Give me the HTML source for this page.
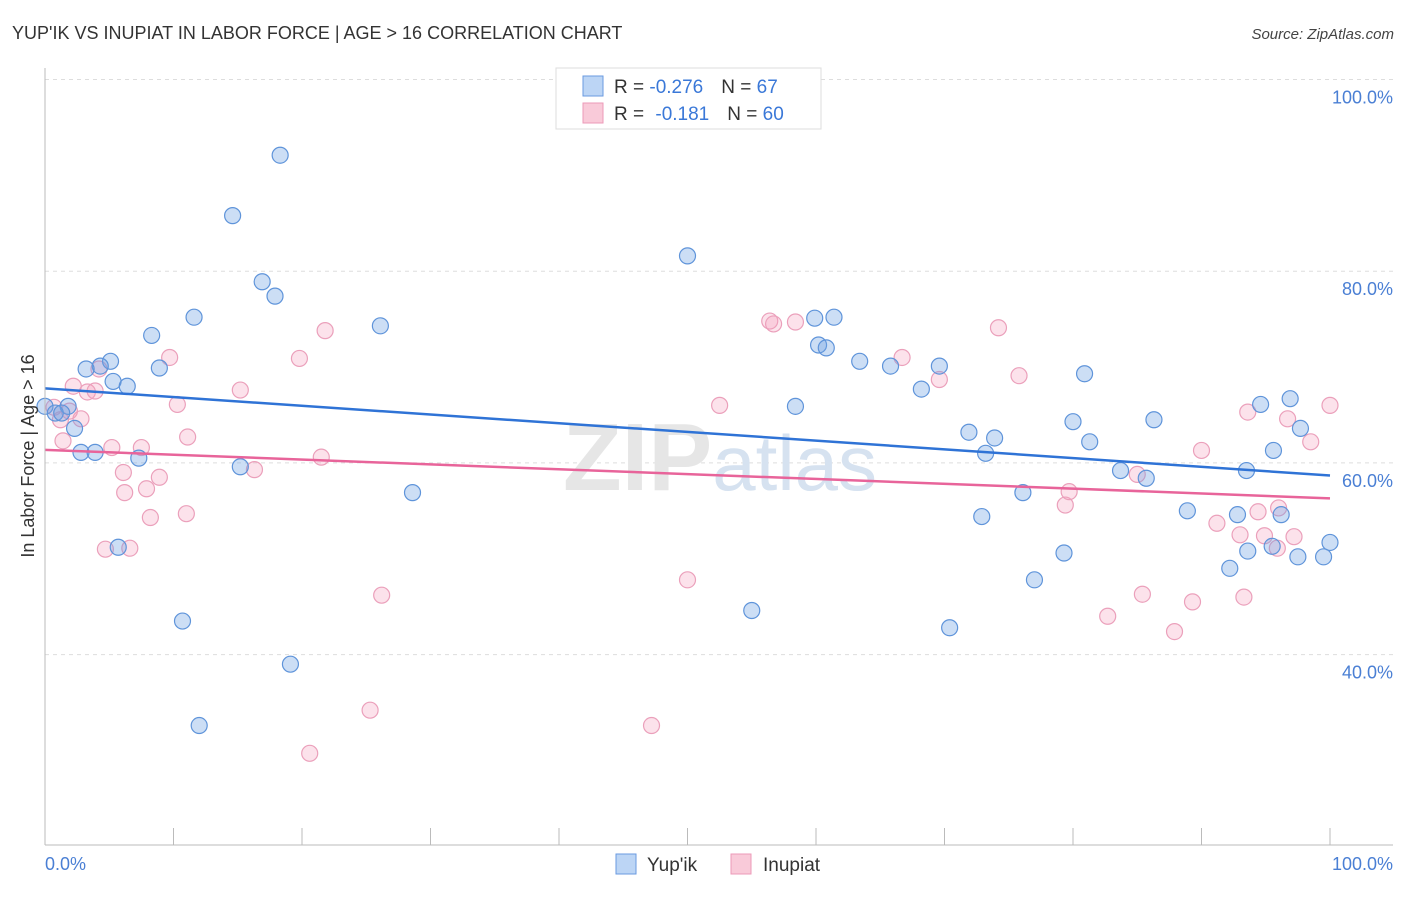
<!DOCTYPE html>
<html><head><meta charset="utf-8"><style>
body{margin:0;background:#fff;font-family:"Liberation Sans",sans-serif;}
svg text{font-family:"Liberation Sans",sans-serif;}
</style></head><body>
<svg id="chart" width="1406" height="892" viewBox="0 0 1406 892" xmlns="http://www.w3.org/2000/svg">
<text x="12" y="39" font-size="18" fill="#333">YUP'IK VS INUPIAT IN LABOR FORCE | AGE &gt; 16 CORRELATION CHART</text>
<text x="1394" y="39" font-size="15" fill="#444" text-anchor="end" font-style="italic">Source: ZipAtlas.com</text>
<g id="grid"></g>
<text x="720" y="490" font-size="96" text-anchor="middle" fill="#e6e6e6" font-family="Liberation Serif,serif" font-weight="bold">ZIP<tspan fill="#d6e2f0" font-family="Liberation Sans,sans-serif" font-weight="normal" font-size="78">atlas</tspan></text>
<g id="points"></g>
<g id="trends"></g>
<line x1="45" y1="68" x2="45" y2="845" stroke="#bbb"/>
<line x1="45" y1="845" x2="1393" y2="845" stroke="#bbb"/>
<g id="xticks"></g>
<text transform="translate(34,456) rotate(-90)" font-size="18" fill="#333" text-anchor="middle">In Labor Force | Age &gt; 16</text>
<text x="45" y="870" font-size="18" fill="#4a7fd4">0.0%</text>
<text x="1393" y="870" font-size="18" fill="#4a7fd4" text-anchor="end">100.0%</text>
<g>
<rect x="556" y="68" width="265" height="61" fill="#fff" stroke="#ddd"/>
<rect x="583" y="76" width="20" height="20" fill="#bcd5f5" stroke="#6a9ae0"/>
<rect x="583" y="103" width="20" height="20" fill="#f9cad9" stroke="#ec9ab8"/>
<text x="614" y="93" font-size="19" fill="#333">R = <tspan fill="#3a78d8">-0.276</tspan><tspan dx="18">N = </tspan><tspan fill="#3a78d8">67</tspan></text>
<text x="614" y="120" font-size="19" fill="#333">R = <tspan dx="6" fill="#3a78d8">-0.181</tspan><tspan dx="18">N = </tspan><tspan fill="#3a78d8">60</tspan></text>
</g>
<g>
<rect x="616" y="854" width="20" height="20" fill="#bcd5f5" stroke="#6a9ae0"/>
<text x="647" y="871" font-size="19" fill="#333">Yup'ik</text>
<rect x="731" y="854" width="20" height="20" fill="#f9cad9" stroke="#ec9ab8"/>
<text x="763" y="871" font-size="19" fill="#333">Inupiat</text>
</g>
</svg>
<script>
const yTicks=[100,80,60,40];
const yTickLabels=["100.0%","80.0%","60.0%","40.0%"];
const xTicks=[0,10,20,30,40,50,60,70,80,90,100];
const yupikX=[41.6,18.3,14.6,50.0,16.9,17.9,11.6,8.3,26.1,59.9,61.4,60.2,60.8,63.4,65.8,69.6,68.2,5.1,4.3,3.2,8.9,5.3,6.4,80.9,58.4,1.8,0,0.8,1.3,2.3,2.8,3.9,7.3,15.2,28.6,71.9,73.9,73.2,80.0,81.3,86.3,83.7,85.7,94.6,96.9,97.7,95.6,93.5,72.9,76.1,88.9,92.8,96.2,79.3,93.6,95.5,97.5,99.5,100,77.0,92.2,55.0,70.4,10.7,5.7,19.1,12.0];
const yupikY=[100,92.1,85.8,81.6,78.9,77.4,75.2,73.3,74.3,75.1,75.2,72.3,72.0,70.6,70.1,70.1,67.7,70.6,70.1,69.8,69.9,68.5,68.0,69.3,65.9,65.9,65.9,65.2,65.2,63.6,61.1,61.1,60.5,59.6,56.9,63.2,62.6,61.0,64.3,62.2,64.5,59.2,58.4,66.1,66.7,63.6,61.3,59.2,54.4,56.9,55.0,54.6,54.6,50.6,50.8,51.3,50.2,50.2,51.7,47.8,49.0,44.6,42.8,43.5,51.2,39.0,32.6];
const inupiatX=[0.7,1.2,1.9,1.4,2.2,3.3,3.9,2.8,4.2,5.2,6.1,6.2,7.5,7.9,8.2,8.9,9.7,10.3,11.0,11.1,4.7,6.6,15.2,16.3,19.8,21.5,21.8,26.2,25.3,20.6,50.0,47.2,52.5,56.4,56.7,58.4,66.7,69.6,74.2,75.8,79.4,79.7,82.7,85.0,85.4,87.9,89.3,90.0,91.2,93.3,93.6,93.0,94.4,94.9,96.0,95.9,96.7,97.2,98.5,100];
const inupiatY=[65.8,64.5,65.4,62.3,68.0,67.4,67.5,64.6,69.8,61.6,59.0,56.9,61.6,57.3,54.3,58.5,71.0,66.1,54.7,62.7,51.0,51.1,67.6,59.3,70.9,60.6,73.8,46.2,34.2,29.7,47.8,32.6,66.0,74.8,74.5,74.7,71.0,68.7,74.1,69.1,55.6,57.0,44.0,58.8,46.3,42.4,45.5,61.3,53.7,46.0,65.3,52.5,54.9,52.4,55.3,51.1,64.6,52.3,62.2,66.0];
const NS="http://www.w3.org/2000/svg";
const sx=v=>45+v*12.85;
const sy=v=>79.5+(100-v)*9.585;
function mk(t,a,p){const e=document.createElementNS(NS,t);for(const k in a)e.setAttribute(k,a[k]);p.appendChild(e);return e;}
const grid=document.getElementById('grid');
yTicks.forEach((t,i)=>{
  const l=mk('line',{x1:45,x2:1393,y1:sy(t),y2:sy(t),stroke:'#ddd','stroke-dasharray':'4,4'},grid);
  
  
  const tx=mk('text',{x:1393,y:sy(t)+24,'font-size':18,fill:'#4a7fd4','text-anchor':'end'},grid);
  tx.textContent=yTickLabels[i];
  
  
});
const xt=document.getElementById('xticks');
xTicks.forEach(t=>{
  const l=mk('line',{x1:sx(t),x2:sx(t),y1:828,y2:845,stroke:'#bbb'},xt);
  
  
});
const pts=document.getElementById('points');
function series(X,Y,fill,stroke,name){
  X.forEach((x,i)=>{
    const c=mk('circle',{cx:sx(x),cy:sy(Y[i]),r:8,fill:fill,stroke:stroke,'stroke-width':1.2},pts);
    
    
  });
}
series(inupiatX,inupiatY,'rgba(244,160,190,0.3)','#eba0bb','inupiat-point');
series(yupikX,yupikY,'rgba(110,160,225,0.35)','#5f94da','yupik-point');
const tr=document.getElementById('trends');
function trend(X,Y,color,name){
  const n=X.length;let mx=0,my=0;X.forEach((x,i)=>{mx+=x;my+=Y[i];});mx/=n;my/=n;
  let sxy=0,sxx=0;X.forEach((x,i)=>{sxy+=(x-mx)*(Y[i]-my);sxx+=(x-mx)*(x-mx);});
  const b=sxy/sxx,a=my-b*mx;
  const l=mk('line',{x1:sx(0),y1:sy(a),x2:sx(100),y2:sy(a+100*b),stroke:color,'stroke-width':2.5},tr);
  
  
}
trend(yupikX,yupikY,'#2f73d6','yupik-trend-line');
trend(inupiatX,inupiatY,'#e8649a','inupiat-trend-line');
</script>
</body></html>
